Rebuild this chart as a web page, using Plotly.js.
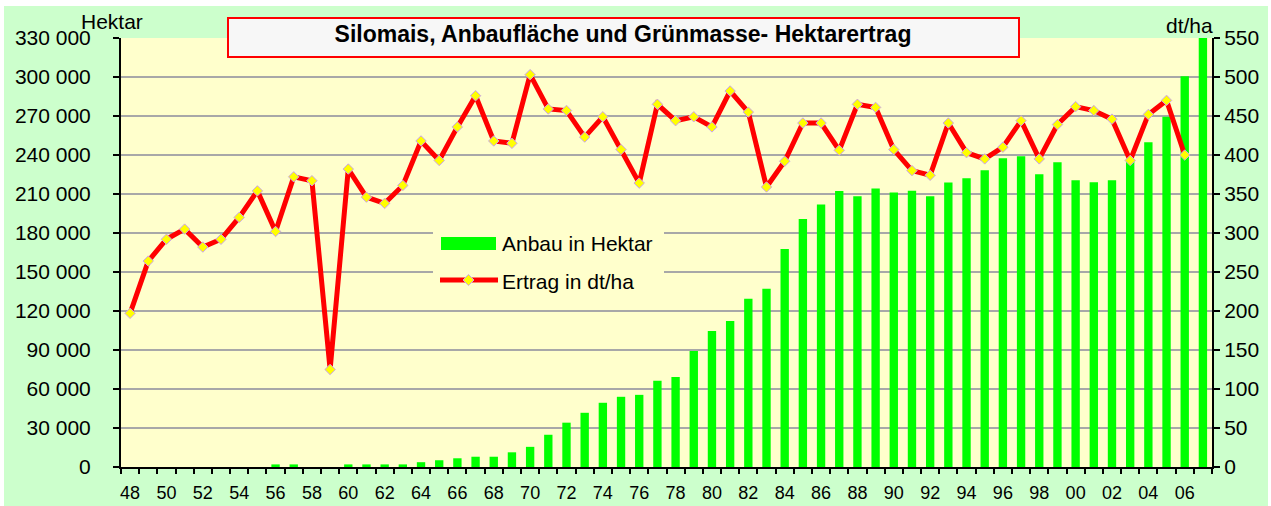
<!DOCTYPE html>
<html>
<head>
<meta charset="utf-8">
<script src="https://cdn.plot.ly/plotly-3.0.1.min.js"></script>
<style>
  html, body { margin: 0; padding: 0; background: #ffffff; }
  #chart { position: absolute; left: 4px; top: 6px; width: 1264px; height: 500px; }
</style>
</head>
<body>
<div id="chart"></div>
<script>
// ---- Data ----
const years = [1948,1949,1950,1951,1952,1953,1954,1955,1956,1957,1958,1959,
  1960,1961,1962,1963,1964,1965,1966,1967,1968,1969,1970,1971,1972,1973,1974,1975,
  1976,1977,1978,1979,1980,1981,1982,1983,1984,1985,1986,1987,1988,1989,1990,1991,
  1992,1993,1994,1995,1996,1997,1998,1999,2000,2001,2002,2003,2004,2005,2006,2007];

// Anbau in Hektar (bars, left axis)
const anbauHektar = [0,0,0,0,0,0,0,0,2000,2000,0,0,
  2000,2000,2000,2000,3700,5200,6700,7900,7900,11300,15500,24800,34100,41700,49400,54000,
  55500,66300,69200,89200,104600,112300,129500,137200,167700,190800,202000,212400,208300,214200,211200,212500,
  208300,218800,222100,228200,237500,239000,225100,234400,220500,219000,220500,236000,249800,269500,300500,333000];

// Ertrag in dt/ha (line, right axis)
const ertragDtHa = [197,264,292,305,282,292,320,354,302,372,367,125,
  382,346,338,361,418,393,436,476,418,415,503,459,457,423,449,407,
  364,465,444,449,436,482,455,359,392,441,441,406,465,461,407,380,
  374,441,403,395,410,444,395,439,462,457,446,393,452,470,400,null];

// Tick labels
const leftTickVals = [0,30000,60000,90000,120000,150000,180000,210000,240000,270000,300000,330000];
const leftTickText = ['0','30 000','60 000','90 000','120 000','150 000','180 000','210 000','240 000','270 000','300 000','330 000'];
const rightTickVals = [0,50,100,150,200,250,300,350,400,450,500,550];
const rightTickText = ['0','50','100','150','200','250','300','350','400','450','500','550'];
const xTickVals = [1948,1950,1952,1954,1956,1958,1960,1962,1964,1966,1968,1970,1972,1974,1976,1978,
  1980,1982,1984,1986,1988,1990,1992,1994,1996,1998,2000,2002,2004,2006];
const xTickText = ['48','50','52','54','56','58','60','62','64','66','68','70','72','74','76','78',
  '80','82','84','86','88','90','92','94','96','98','00','02','04','06'];

const titleText = 'Silomais, Anbaufläche und Grünmasse- Hektarertrag';
const seriesNames = ['Anbau in Hektar', 'Ertrag in dt/ha'];
const axisUnits = ['Hektar', 'dt/ha'];

// ---- Layout helpers (page pixel -> paper fraction of plot area) ----
const PX0 = 121, PX1 = 1212, PY0 = 38, PY1 = 467;
const fx = x => (x - PX0) / (PX1 - PX0);
const fy = y => (PY1 - y) / (PY1 - PY0);

const FONT = 'Liberation Sans, Arial, sans-serif';

const traces = [
  {
    type: 'bar',
    name: seriesNames[0],
    x: years,
    y: anbauHektar,
    yaxis: 'y',
    width: 0.46,
    marker: { color: '#00FF00', line: { width: 0 } },
    cliponaxis: false,
    showlegend: false,
    hoverinfo: 'x+y'
  },
  {
    type: 'scatter',
    mode: 'lines+markers',
    name: seriesNames[1],
    x: years,
    y: ertragDtHa,
    yaxis: 'y2',
    line: { color: '#FF0000', width: 5 },
    marker: { symbol: 'diamond', size: 8, color: '#FFFF00', line: { color: '#C8A0F0', width: 1 } },
    cliponaxis: false,
    showlegend: false
  }
];

// legend pieces (custom, drawn as decoration)
const dia = (cx, cy, r) => {
  return 'M ' + fx(cx - r) + ' ' + fy(cy) + ' L ' + fx(cx) + ' ' + fy(cy - r) +
    ' L ' + fx(cx + r) + ' ' + fy(cy) + ' L ' + fx(cx) + ' ' + fy(cy + r) + ' Z';
};

const shapes = [
  // title box
  { type: 'rect', xref: 'paper', yref: 'paper', layer: 'above',
    x0: fx(228), x1: fx(1019), y0: fy(57), y1: fy(18),
    fillcolor: '#F7F7F7', line: { color: '#FF0000', width: 2 } },
  // legend background
  { type: 'rect', xref: 'paper', yref: 'paper', layer: 'above',
    x0: fx(433), x1: fx(664), y0: fy(296), y1: fy(212),
    fillcolor: '#FFFFCC', line: { width: 0 } },
  // legend bar swatch
  { type: 'rect', xref: 'paper', yref: 'paper', layer: 'above',
    x0: fx(441), x1: fx(496), y0: fy(250), y1: fy(237),
    fillcolor: '#00FF00', line: { width: 0 } },
  // legend line swatch
  { type: 'line', xref: 'paper', yref: 'paper', layer: 'above',
    x0: fx(440), x1: fx(498), y0: fy(280), y1: fy(280),
    line: { color: '#FF0000', width: 5 } },
  { type: 'path', xref: 'paper', yref: 'paper', layer: 'above',
    path: dia(468.5, 280, 5.5),
    fillcolor: '#FFFF00', line: { color: '#C8A0F0', width: 1 } }
];

const annotations = [
  { text: seriesNames[0], xref: 'paper', yref: 'paper', x: fx(500), y: fy(243),
    xanchor: 'left', yanchor: 'middle', showarrow: false,
    font: { family: FONT, size: 21, color: '#000000' } },
  { text: seriesNames[1], xref: 'paper', yref: 'paper', x: fx(500), y: fy(281),
    xanchor: 'left', yanchor: 'middle', showarrow: false,
    font: { family: FONT, size: 21, color: '#000000' } },
  { text: axisUnits[0], xref: 'paper', yref: 'paper', x: fx(79), y: fy(22),
    xanchor: 'left', yanchor: 'middle', showarrow: false,
    font: { family: FONT, size: 21, color: '#000000' } },
  { text: axisUnits[1], xref: 'paper', yref: 'paper', x: fx(1164), y: fy(25),
    xanchor: 'left', yanchor: 'middle', showarrow: false,
    font: { family: FONT, size: 21, color: '#000000' } }
];

const layout = {
  width: 1264,
  height: 500,
  margin: { l: 117, r: 56, t: 32, b: 39, pad: 0 },
  paper_bgcolor: '#CCFFCC',
  plot_bgcolor: '#FFFFCC',
  showlegend: false,
  title: {
    text: '<b>' + titleText + '</b>',
    font: { family: FONT, size: 23, color: '#000000' },
    xref: 'container', yref: 'container',
    x: (623 - 4) / 1264, y: 1 - (34 - 6) / 500,
    xanchor: 'center', yanchor: 'middle'
  },
  bargap: 0.5,
  xaxis: {
    type: 'linear',
    range: [1947.5, 2007.5],
    tickmode: 'array',
    tickvals: xTickVals,
    ticktext: xTickText,
    ticks: '',
    showgrid: false,
    zeroline: false,
    showline: true,
    linecolor: '#000000',
    linewidth: 2,
    tickfont: { family: FONT, size: 18, color: '#000000' },
    ticklabelstandoff: 8,
    minor: { tick0: 1947.5, dtick: 1, ticks: 'outside', ticklen: 5, tickwidth: 2, tickcolor: '#000000', showgrid: false }
  },
  yaxis: {
    range: [0, 330000],
    tickmode: 'array',
    tickvals: leftTickVals,
    ticktext: leftTickText,
    ticks: 'outside',
    ticklen: 6,
    tickwidth: 2,
    tickcolor: '#000000',
    showline: true,
    linecolor: '#000000',
    linewidth: 2,
    showgrid: true,
    gridcolor: '#A8A8A8',
    gridwidth: 2,
    zeroline: false,
    tickfont: { family: FONT, size: 21, color: '#000000' },
    ticklabelstandoff: 18
  },
  yaxis2: {
    overlaying: 'y',
    side: 'right',
    range: [0, 550],
    tickmode: 'array',
    tickvals: rightTickVals,
    ticktext: rightTickText,
    ticks: 'outside',
    ticklen: 6,
    tickwidth: 2,
    tickcolor: '#000000',
    showline: true,
    linecolor: '#000000',
    linewidth: 2,
    showgrid: false,
    zeroline: false,
    tickfont: { family: FONT, size: 21, color: '#000000' }
  },
  shapes: shapes,
  annotations: annotations
};

Plotly.newPlot('chart', traces, layout, { displayModeBar: false, staticPlot: true });
</script>
</body>
</html>
